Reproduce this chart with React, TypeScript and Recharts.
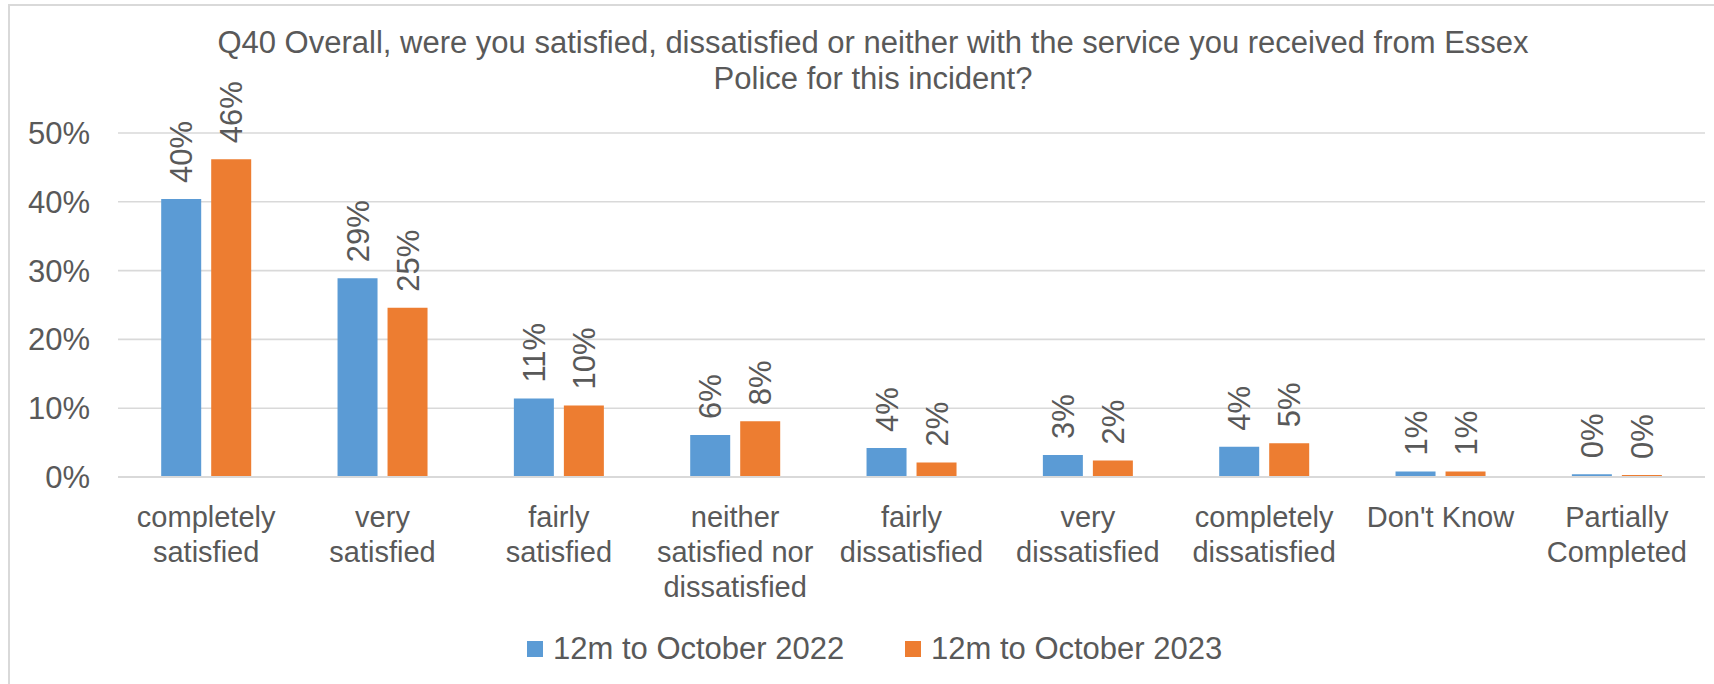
import React from 'react';
import { BarChart, Bar, XAxis, YAxis, CartesianGrid, LabelList } from 'recharts';

// Q40 satisfaction, share of respondents (%)
const categories = [
  'completely\nsatisfied',
  'very\nsatisfied',
  'fairly\nsatisfied',
  'neither\nsatisfied nor\ndissatisfied',
  'fairly\ndissatisfied',
  'very\ndissatisfied',
  'completely\ndissatisfied',
  "Don't Know",
  'Partially\nCompleted',
];
const values2022 = [40.4, 28.9, 11.4, 6.1, 4.2, 3.2, 4.4, 0.8, 0.4];
const values2023 = [46.2, 24.6, 10.4, 8.1, 2.1, 2.4, 4.9, 0.8, 0.3];
const seriesNames = ['12m to October 2022', '12m to October 2023'];
const yTicks = [0, 10, 20, 30, 40, 50];
const titleLines = [
  'Q40 Overall, were you satisfied, dissatisfied or neither with the service you received from Essex',
  'Police for this incident?',
];

const COLORS = ['#5B9BD5', '#ED7D31'];
const FONT = '"Liberation Sans", Arial, sans-serif';
const TEXT = '#595959';
const GRID = '#D9D9D9';

const chartData = categories.map((name, i) => ({
  name,
  v2022: values2022[i],
  v2023: values2023[i],
}));

const CategoryTick = (props: any) => {
  const { x, y, payload } = props;
  const lines = String(payload.value).split('\n');
  return (
    <text x={x} y={y + 50} textAnchor="middle" fill={TEXT} fontSize={29} fontFamily={FONT}>
      {lines.map((line, i) => (
        <tspan key={i} x={x} dy={i === 0 ? 0 : 35}>
          {line}
        </tspan>
      ))}
    </text>
  );
};

const renderValueLabel = (props: any) => {
  const { x, y, width, value } = props;
  const cx = Number(x) + Number(width) / 2;
  const cy = Number(y) - 16;
  return (
    <text
      x={cx}
      y={cy}
      dy="0.36em"
      transform={`rotate(-90, ${cx}, ${cy})`}
      textAnchor="start"
      fill={TEXT}
      fontSize={31}
      fontFamily={FONT}
    >
      {`${Math.round(Number(value))}%`}
    </text>
  );
};

// legend item positions taken from the original layout
const legendX = [527, 905];

export default function App() {
  return (
    <div style={{ position: 'absolute', left: 0, top: 0, width: 1714, height: 684, overflow: 'hidden', background: '#fff' }}>
      <div
        style={{
          position: 'absolute',
          left: 8,
          top: 4,
          width: 1800,
          height: 800,
          borderLeft: `2px solid ${GRID}`,
          borderTop: `2px solid ${GRID}`,
        }}
      />
      <div style={{ position: 'absolute', left: 0, top: 0 }}>
        <BarChart
          width={1714}
          height={684}
          data={chartData}
          margin={{ top: 133, right: 9, bottom: 77, left: 18 }}
          barCategoryGap="24.5%"
          barGap={10}
        >
          <CartesianGrid vertical={false} stroke={GRID} strokeWidth={1.6} />
          <XAxis
            dataKey="name"
            interval={0}
            height={130}
            tickLine={false}
            tickSize={0}
            tickMargin={0}
            axisLine={{ stroke: GRID, strokeWidth: 2 }}
            tick={<CategoryTick />}
          />
          <YAxis
            width={100}
            domain={[0, 50]}
            ticks={yTicks}
            axisLine={false}
            tickLine={false}
            tickSize={0}
            tickMargin={28}
            tickFormatter={(v: number) => `${v}%`}
            tick={{ fill: TEXT, fontSize: 31, fontFamily: FONT }}
          />
          <Bar dataKey="v2022" name={seriesNames[0]} fill={COLORS[0]} isAnimationActive={false}>
            <LabelList dataKey="v2022" content={renderValueLabel} />
          </Bar>
          <Bar dataKey="v2023" name={seriesNames[1]} fill={COLORS[1]} isAnimationActive={false}>
            <LabelList dataKey="v2023" content={renderValueLabel} />
          </Bar>
        </BarChart>
      </div>
      <svg
        width={1714}
        height={684}
        style={{ position: 'absolute', left: 0, top: 0, pointerEvents: 'none' }}
      >
        {titleLines.map((line, i) => (
          <text
            key={i}
            x={873}
            y={53 + i * 36}
            textAnchor="middle"
            fill={TEXT}
            fontSize={31}
            fontFamily={FONT}
          >
            {line}
          </text>
        ))}
        {seriesNames.map((name, i) => (
          <g key={name}>
            <rect x={legendX[i]} y={641} width={16} height={16} fill={COLORS[i]} />
            <text x={legendX[i] + 26} y={659} fill={TEXT} fontSize={31} fontFamily={FONT}>
              {name}
            </text>
          </g>
        ))}
      </svg>
    </div>
  );
}
